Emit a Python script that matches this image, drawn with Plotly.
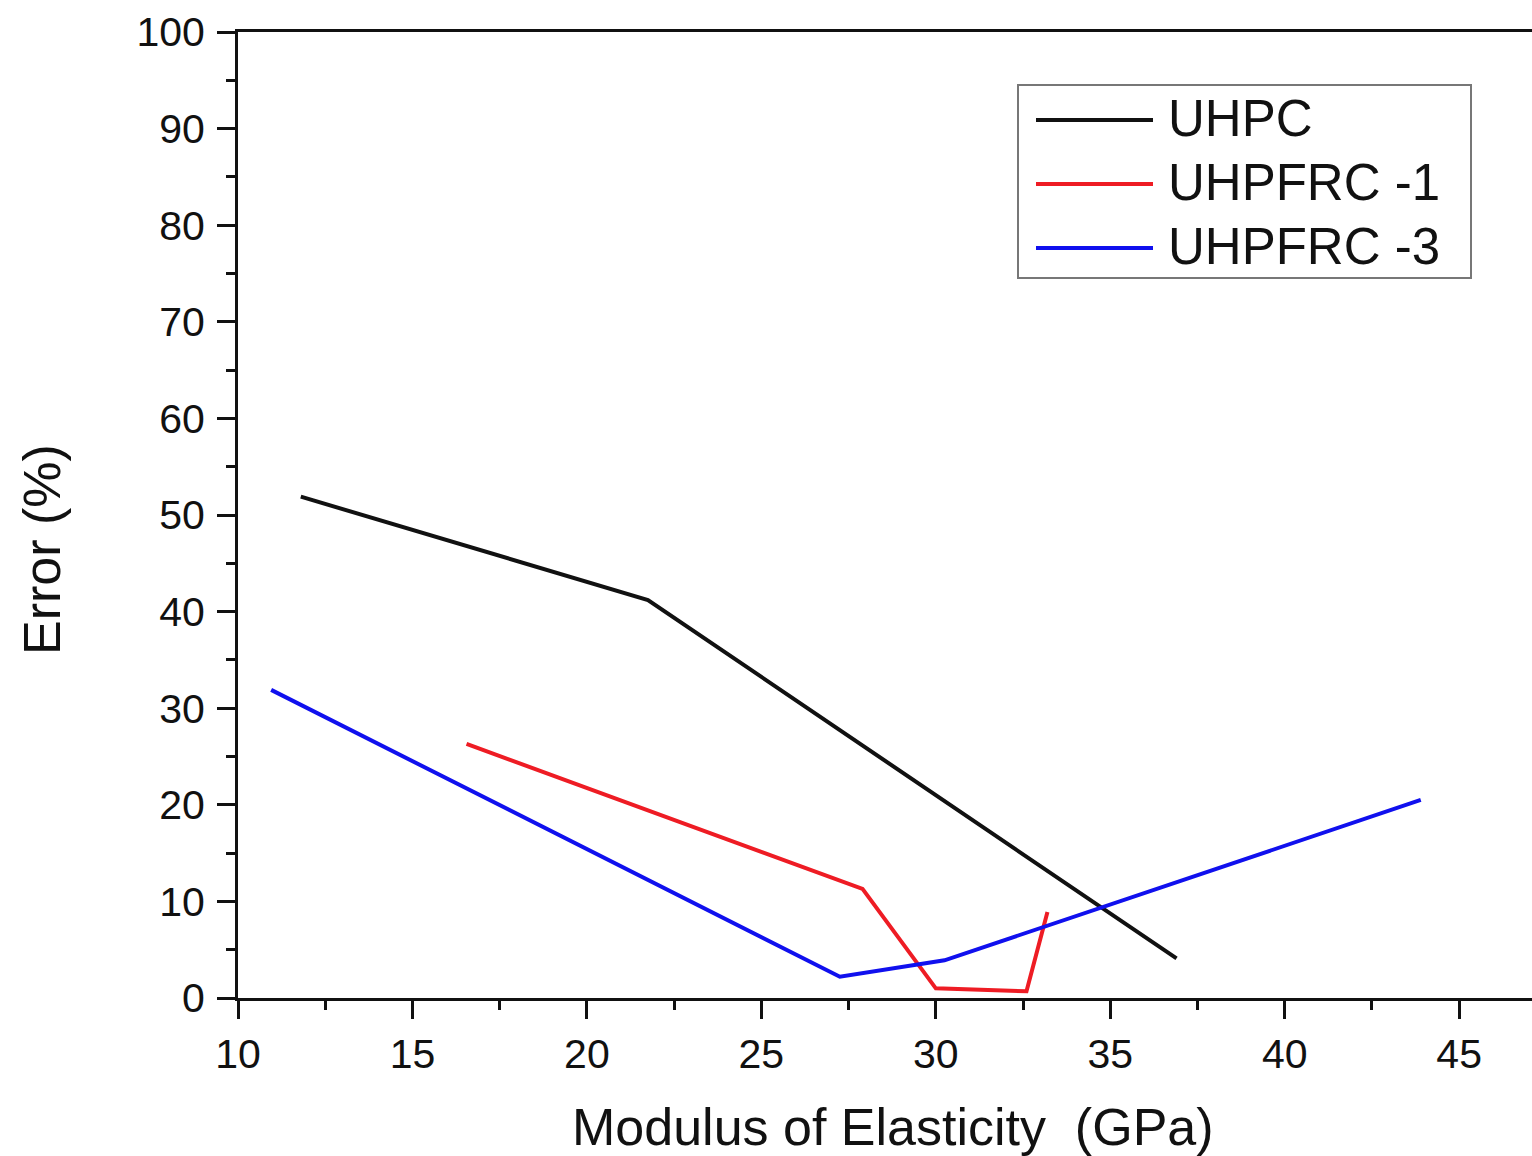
import plotly.graph_objects as go

# ---- data ----
uhpc_x = [11.8, 21.75, 36.9]
uhpc_y = [51.9, 41.2, 4.1]

uhpfrc1_x = [16.55, 27.9, 30.0, 32.6, 33.2]
uhpfrc1_y = [26.3, 11.3, 1.0, 0.7, 8.9]

uhpfrc3_x = [10.95, 27.25, 30.25, 43.9]
uhpfrc3_y = [31.9, 2.2, 3.9, 20.5]

series_names = ["UHPC", "UHPFRC -1", "UHPFRC -3"]
series_colors = ["#111111", "#ee1c24", "#1010ee"]

x_ticks = [10, 15, 20, 25, 30, 35, 40, 45]
y_ticks = [0, 10, 20, 30, 40, 50, 60, 70, 80, 90, 100]

W, H = 1532, 1156
L, R, T, B = 238, 0, 32, 158
FONT = "Liberation Sans, Arial, sans-serif"

fig = go.Figure()
for xs, ys, name, col in zip([uhpc_x, uhpfrc1_x, uhpfrc3_x],
                              [uhpc_y, uhpfrc1_y, uhpfrc3_y],
                              series_names, series_colors):
    fig.add_trace(go.Scatter(x=xs, y=ys, mode="lines", name=name,
                             line=dict(color=col, width=4), showlegend=False))

pw = W - L - R
ph = H - T - B
def px2paper_x(px):
    return (px - L) / pw
def px2paper_y(py):
    return (H - B - py) / ph

# manual legend (long line samples like the original)
shapes = [dict(type="rect", xref="paper", yref="paper",
               x0=px2paper_x(1018), x1=px2paper_x(1471),
               y0=px2paper_y(278), y1=px2paper_y(85),
               line=dict(color="#777777", width=2), fillcolor="white", layer="below")]
annotations = []
for i, (name, col) in enumerate(zip(series_names, series_colors)):
    yy = px2paper_y(120 + i * 64)
    shapes.append(dict(type="line", xref="paper", yref="paper",
                       x0=px2paper_x(1036), x1=px2paper_x(1153), y0=yy, y1=yy,
                       line=dict(color=col, width=4)))
    annotations.append(dict(text=name, xref="paper", yref="paper",
                            x=px2paper_x(1166), y=yy + 0.002, xanchor="left", yanchor="middle",
                            showarrow=False, font=dict(family=FONT, size=51, color="#111111")))

# axis titles as annotations for precise placement
annotations.append(dict(text="Modulus of Elasticity\u00a0\u00a0(GPa)", xref="paper", yref="paper",
                        x=px2paper_x(893), y=px2paper_y(1127), xanchor="center", yanchor="middle",
                        showarrow=False, font=dict(family=FONT, size=52, color="#111111")))
annotations.append(dict(text="Error (%)", xref="paper", yref="paper",
                        x=px2paper_x(42), y=px2paper_y(550), xanchor="center", yanchor="middle",
                        textangle=-90, showarrow=False,
                        font=dict(family=FONT, size=52, color="#111111")))

axis_common = dict(showgrid=False, zeroline=False, showline=True, linecolor="#111111",
                   linewidth=3, ticks="outside", ticklen=18, tickwidth=2.5, tickcolor="#111111",
                   tickfont=dict(family=FONT, size=41, color="#111111"))

fig.update_layout(
    width=W, height=H,
    margin=dict(l=L, r=R, t=T, b=B),
    paper_bgcolor="white", plot_bgcolor="white",
    showlegend=False,
    xaxis=dict(range=[10, 10 + pw / 34.89], tickvals=x_ticks, mirror=True,
               minor=dict(ticks="outside", dtick=2.5, tick0=10, ticklen=9, tickwidth=2.5,
                          tickcolor="#111111"),
               **axis_common),
    yaxis=dict(range=[0, 100], tickvals=y_ticks, ticklabelstandoff=4,
               minor=dict(ticks="outside", dtick=5, tick0=0, ticklen=9, tickwidth=2.5,
                          tickcolor="#111111"),
               **axis_common),
    shapes=shapes,
    annotations=annotations,
)

fig.write_html("out.html")
